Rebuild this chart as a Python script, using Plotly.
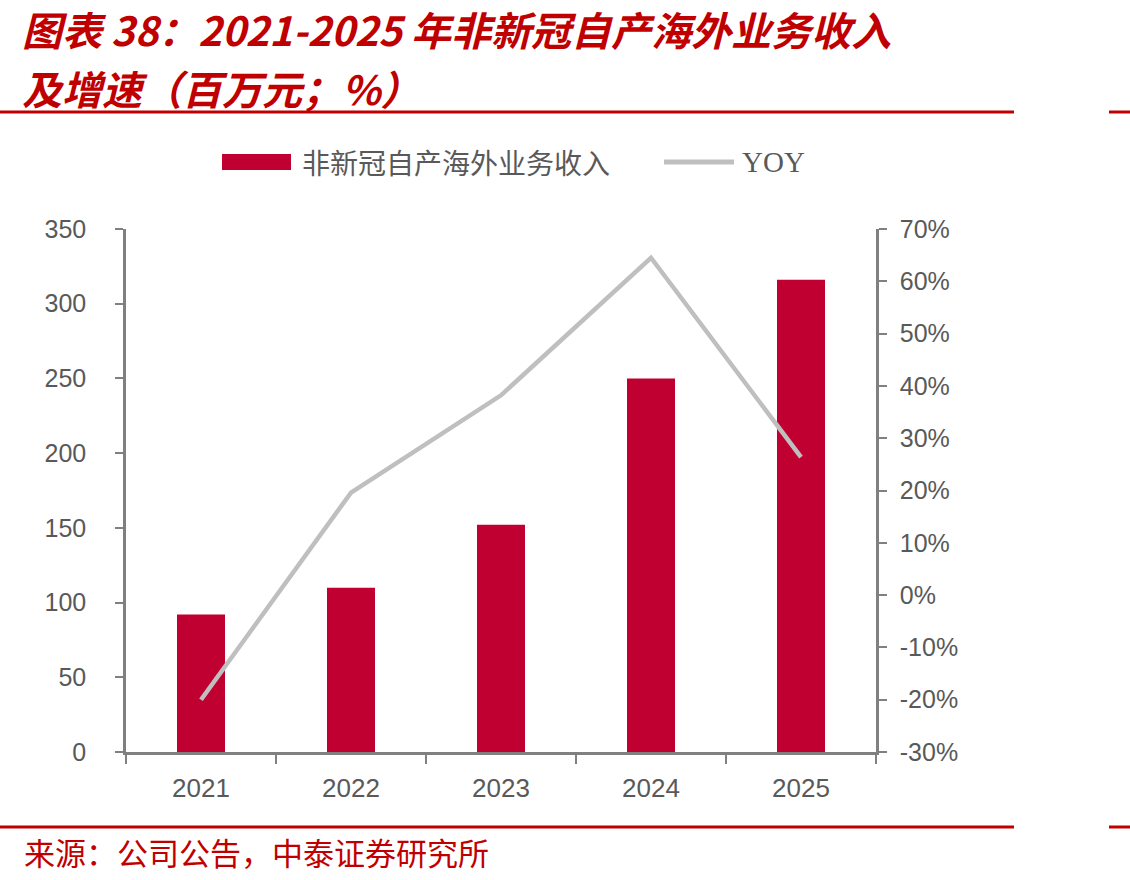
import plotly.graph_objects as go

years = ["2021", "2022", "2023", "2024", "2025"]
revenue = [92, 110, 152, 250, 316]          # 百万元
yoy = [-20.0, 19.6, 38.2, 64.5, 26.4]       # %

left_ticks = [0, 50, 100, 150, 200, 250, 300, 350]
right_ticks = [-30, -20, -10, 0, 10, 20, 30, 40, 50, 60, 70]
right_tick_text = [f"{v}%" for v in right_ticks]

title_line1 = "图表 38：2021-2025 年非新冠自产海外业务收入"
title_line2 = "及增速（百万元；%）"
source_text = "来源：公司公告，中泰证券研究所"
bar_name = "非新冠自产海外业务收入"
line_name = "YOY"

W, H = 1130, 880
L, R, T, B = 126, 876, 229, 752
BAR_COLOR = "#C00030"
RED = "#C00000"
LINE_COLOR = "#BFBFBF"
AXIS_COLOR = "#808080"
TICK_FONT = dict(family="Liberation Sans, Arial, sans-serif", size=25, color="#595959")
XTICK_FONT = dict(family="Liberation Sans, Arial, sans-serif", size=26, color="#595959")
CJK = "Noto Sans CJK SC"


def px2x(px):
    return (px - L) / (R - L)


def px2y(py):
    return (B - py) / (B - T)


fig = go.Figure()
fig.add_trace(go.Bar(x=years, y=revenue, name=bar_name, marker=dict(color=BAR_COLOR, line=dict(width=0)),
                     width=0.32, showlegend=False))
fig.add_trace(go.Scatter(x=years, y=yoy, name=line_name, yaxis="y2", mode="lines",
                         line=dict(color=LINE_COLOR, width=4.5), showlegend=False))

shapes = []
annotations = []

# red rules
for (x0, x1, y) in [(0, 1014, 112), (1109, 1130, 112), (0, 1014, 827), (1109, 1130, 827)]:
    shapes.append(dict(type="line", xref="paper", yref="paper", x0=px2x(x0), x1=px2x(x1),
                       y0=px2y(y), y1=px2y(y), line=dict(color=RED, width=3)))

# legend
shapes.append(dict(type="rect", xref="paper", yref="paper", x0=px2x(222), x1=px2x(291),
                   y0=px2y(170), y1=px2y(154), fillcolor=BAR_COLOR, line=dict(width=0)))
shapes.append(dict(type="line", xref="paper", yref="paper", x0=px2x(664), x1=px2x(734),
                   y0=px2y(162), y1=px2y(162), line=dict(color=LINE_COLOR, width=5)))
annotations.append(dict(xref="paper", yref="paper", x=px2x(300), y=px2y(162), xanchor="left", yanchor="middle",
                        text=bar_name, showarrow=False,
                        font=dict(family=CJK, size=28, color="#595959")))
annotations.append(dict(xref="paper", yref="paper", x=px2x(740), y=px2y(162), xanchor="left", yanchor="middle",
                        text=line_name, showarrow=False,
                        font=dict(family="Liberation Serif, Times New Roman, serif", size=29, color="#595959")))

# title
annotations.append(dict(xref="paper", yref="paper", x=px2x(20), y=px2y(29), xanchor="left", yanchor="middle",
                        text="<b><i>" + title_line1 + "</i></b>", showarrow=False,
                        font=dict(family=CJK, size=40, color=RED)))
annotations.append(dict(xref="paper", yref="paper", x=px2x(20), y=px2y(88), xanchor="left", yanchor="middle",
                        text="<b><i>" + title_line2 + "</i></b>", showarrow=False,
                        font=dict(family=CJK, size=40, color=RED)))
# source
annotations.append(dict(xref="paper", yref="paper", x=px2x(22), y=px2y(851), xanchor="left", yanchor="middle",
                        text=source_text, showarrow=False,
                        font=dict(family=CJK, size=31, color=RED)))

fig.update_layout(
    width=W, height=H, autosize=False,
    margin=dict(l=L, r=W - R, t=T, b=H - B, pad=0),
    paper_bgcolor="white", plot_bgcolor="white",
    shapes=shapes, annotations=annotations,
    bargap=0.68,
    xaxis=dict(type="category", categoryorder="array", categoryarray=years,
               showline=True, linecolor=AXIS_COLOR, linewidth=2.5,
               ticks="outside", tickson="boundaries", ticklen=9, tickwidth=2, tickcolor=AXIS_COLOR,
               tickfont=XTICK_FONT, showgrid=False, zeroline=False, ticklabelstandoff=11,
               range=[-0.5, 4.5]),
    yaxis=dict(range=[0, 350], tickvals=left_ticks, showline=True, linecolor=AXIS_COLOR, linewidth=2.5,
               ticks="outside", ticklen=8, tickwidth=2, tickcolor=AXIS_COLOR,
               tickfont=TICK_FONT, showgrid=False, zeroline=False, ticklabelstandoff=24),
    yaxis2=dict(range=[-30, 70], tickvals=right_ticks, ticktext=right_tick_text, overlaying="y", side="right",
                showline=True, linecolor=AXIS_COLOR, linewidth=2.5,
                ticks="outside", ticklen=8, tickwidth=2, tickcolor=AXIS_COLOR,
                tickfont=TICK_FONT, showgrid=False, zeroline=False, ticklabelstandoff=8),
)

fig.write_html("out.html")
